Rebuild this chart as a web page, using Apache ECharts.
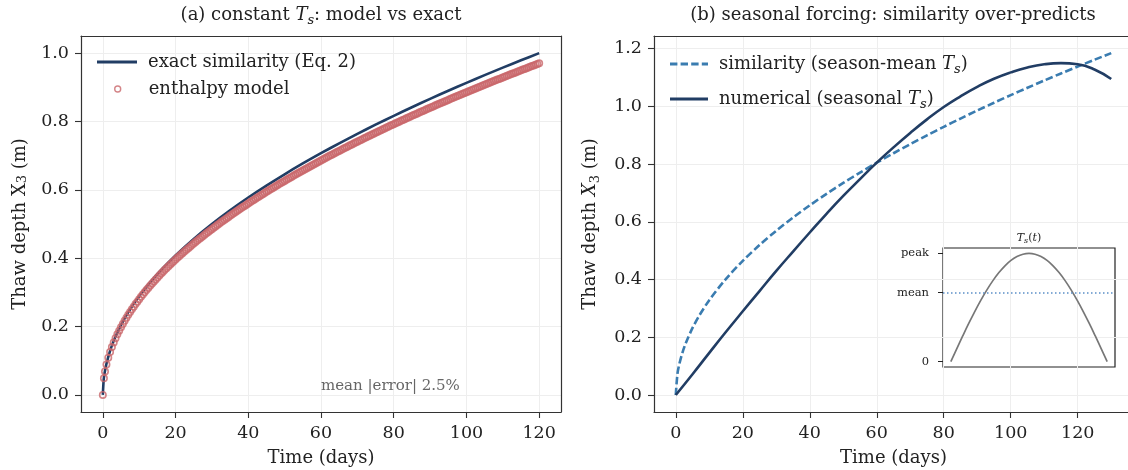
<!DOCTYPE html>
<html>
<head>
<meta charset="utf-8">
<script src="https://cdn.jsdelivr.net/npm/echarts@6/dist/echarts.min.js"></script>
<style>
  html, body { margin: 0; padding: 0; background: #fff; }
  #chart { width: 1128px; height: 470px; }
</style>
</head>
<body>
<div id="chart"></div>
<script>
// (a) constant surface temperature
var exactDays = [0, 0.25, 0.5, 1, 2, 3, 4, 6, 8, 10, 13, 16, 20, 25, 30, 35, 40, 45, 50, 55, 60,
  65, 70, 75, 80, 85, 90, 95, 100, 105, 110, 115, 120];
var exactDepth = [0, 0.0456, 0.0645, 0.0913, 0.1291, 0.1581, 0.1826, 0.2236, 0.2582, 0.2887, 0.3291,
  0.3651, 0.4082, 0.4564, 0.5000, 0.5401, 0.5774, 0.6124, 0.6455, 0.6770, 0.7071, 0.7360, 0.7638,
  0.7906, 0.8165, 0.8416, 0.8660, 0.8898, 0.9129, 0.9354, 0.9574, 0.9789, 1.0000];

var modelDays = [0, 0.3, 0.6, 1, 1.5, 2, 2.5, 3, 3.5, 4, 4.5, 5, 5.5, 6, 6.5, 7, 7.5, 8, 8.5, 9, 9.5, 10,
  10.5, 11, 11.5, 12, 12.5, 13, 13.5, 14, 14.5, 15, 15.5, 16, 16.5, 17, 17.5, 18, 18.5, 19, 19.5, 20,
  20.5, 21, 21.5, 22, 22.5, 23, 23.5, 24, 24.5, 25, 25.5, 26, 26.5, 27, 27.5, 28, 28.5, 29, 29.5, 30,
  30.5, 31, 31.5, 32, 32.5, 33, 33.5, 34, 34.5, 35, 35.5, 36, 36.5, 37, 37.5, 38, 38.5, 39, 39.5, 40,
  40.5, 41, 41.5, 42, 42.5, 43, 43.5, 44, 44.5, 45, 45.5, 46, 46.5, 47, 47.5, 48, 48.5, 49, 49.5, 50,
  50.5, 51, 51.5, 52, 52.5, 53, 53.5, 54, 54.5, 55, 55.5, 56, 56.5, 57, 57.5, 58, 58.5, 59, 59.5, 60,
  60.5, 61, 61.5, 62, 62.5, 63, 63.5, 64, 64.5, 65, 65.5, 66, 66.5, 67, 67.5, 68, 68.5, 69, 69.5, 70,
  70.5, 71, 71.5, 72, 72.5, 73, 73.5, 74, 74.5, 75, 75.5, 76, 76.5, 77, 77.5, 78, 78.5, 79, 79.5, 80,
  80.5, 81, 81.5, 82, 82.5, 83, 83.5, 84, 84.5, 85, 85.5, 86, 86.5, 87, 87.5, 88, 88.5, 89, 89.5, 90,
  90.5, 91, 91.5, 92, 92.5, 93, 93.5, 94, 94.5, 95, 95.5, 96, 96.5, 97, 97.5, 98, 98.5, 99, 99.5, 100,
  100.5, 101, 101.5, 102, 102.5, 103, 103.5, 104, 104.5, 105, 105.5, 106, 106.5, 107, 107.5, 108, 108.5, 109, 109.5, 110,
  110.5, 111, 111.5, 112, 112.5, 113, 113.5, 114, 114.5, 115, 115.5, 116, 116.5, 117, 117.5, 118, 118.5, 119, 119.5, 120];
var modelDepth = [0, 0.0485, 0.0686, 0.0886, 0.1085, 0.1252, 0.1400, 0.1534, 0.1657, 0.1771, 0.1878,
  0.1980, 0.2077, 0.2169, 0.2258, 0.2343, 0.2425, 0.2505, 0.2582, 0.2657, 0.2729, 0.2800,
  0.2869, 0.2937, 0.3002, 0.3067, 0.3130, 0.3193, 0.3253, 0.3313, 0.3372, 0.3430,
  0.3486, 0.3542, 0.3597, 0.3651, 0.3704, 0.3757, 0.3809, 0.3860, 0.3910, 0.3960,
  0.4009, 0.4058, 0.4106, 0.4153, 0.4200, 0.4247, 0.4293, 0.4338, 0.4383, 0.4428,
  0.4472, 0.4515, 0.4558, 0.4601, 0.4644, 0.4686, 0.4728, 0.4769, 0.4810, 0.4850,
  0.4890, 0.4930, 0.4970, 0.5009, 0.5048, 0.5087, 0.5125, 0.5163, 0.5201, 0.5239,
  0.5276, 0.5313, 0.5350, 0.5386, 0.5423, 0.5459, 0.5495, 0.5530, 0.5565, 0.5600,
  0.5635, 0.5670, 0.5705, 0.5739, 0.5773, 0.5807, 0.5841, 0.5874, 0.5907, 0.5940,
  0.5973, 0.6006, 0.6039, 0.6071, 0.6103, 0.6135, 0.6167, 0.6199, 0.6230, 0.6261,
  0.6293, 0.6324, 0.6355, 0.6385, 0.6416, 0.6447, 0.6477, 0.6507, 0.6537, 0.6567,
  0.6597, 0.6627, 0.6656, 0.6685, 0.6715, 0.6744, 0.6773, 0.6802, 0.6831, 0.6859,
  0.6888, 0.6916, 0.6944, 0.6972, 0.7001, 0.7029, 0.7057, 0.7084, 0.7112, 0.7139,
  0.7167, 0.7194, 0.7221, 0.7248, 0.7275, 0.7302, 0.7329, 0.7356, 0.7383, 0.7409,
  0.7435, 0.7461, 0.7488, 0.7514, 0.7540, 0.7566, 0.7592, 0.7617, 0.7643, 0.7669,
  0.7695, 0.7720, 0.7745, 0.7770, 0.7796, 0.7821, 0.7846, 0.7871, 0.7896, 0.7920,
  0.7945, 0.7970, 0.7995, 0.8019, 0.8043, 0.8067, 0.8092, 0.8116, 0.8140, 0.8164,
  0.8188, 0.8212, 0.8236, 0.8260, 0.8284, 0.8307, 0.8331, 0.8354, 0.8378, 0.8401,
  0.8424, 0.8447, 0.8471, 0.8494, 0.8517, 0.8540, 0.8563, 0.8585, 0.8608, 0.8631,
  0.8654, 0.8676, 0.8699, 0.8721, 0.8744, 0.8766, 0.8789, 0.8811, 0.8833, 0.8855,
  0.8877, 0.8899, 0.8921, 0.8943, 0.8965, 0.8987, 0.9009, 0.9030, 0.9052, 0.9074,
  0.9096, 0.9117, 0.9139, 0.9160, 0.9181, 0.9202, 0.9224, 0.9245, 0.9266, 0.9287,
  0.9308, 0.9329, 0.9350, 0.9371, 0.9392, 0.9413, 0.9434, 0.9455, 0.9476, 0.9496,
  0.9517, 0.9537, 0.9558, 0.9578, 0.9599, 0.9619, 0.9640, 0.9660, 0.9680, 0.9700];

// (b) seasonal forcing
var simDays = [0, 0.5, 1, 2, 3, 5, 7, 10, 15, 20, 25, 30, 35, 40, 45, 50, 55, 60, 65, 70, 75, 80,
  85, 90, 95, 100, 105, 110, 115, 120, 125, 130];
var simDepth = [0, 0.0735, 0.1039, 0.1469, 0.1800, 0.2323, 0.2749, 0.3286, 0.4024, 0.4647, 0.5195,
  0.5691, 0.6147, 0.6571, 0.6970, 0.7347, 0.7705, 0.8048, 0.8377, 0.8693, 0.8998, 0.9293,
  0.9579, 0.9857, 1.0127, 1.0390, 1.0647, 1.0897, 1.1142, 1.1382, 1.1617, 1.1847];

var numDays = [0, 5, 10, 15, 20, 25, 30, 35, 40, 45, 50, 55, 60, 65, 70, 75, 80, 85, 90, 95, 100,
  105, 110, 115, 120, 125, 130];
var numDepth = [0, 0.072, 0.146, 0.219, 0.290, 0.360, 0.430, 0.497, 0.563, 0.628, 0.690, 0.748,
  0.805, 0.858, 0.908, 0.955, 0.998, 1.035, 1.068, 1.096, 1.118, 1.135, 1.146, 1.150, 1.146,
  1.128, 1.095];

// inset: surface temperature shape
var insetDays = [0, 5, 10, 15, 20, 25, 30, 35, 40, 45, 50, 55, 60, 65, 70, 75, 80, 85, 90, 95, 100,
  105, 110, 115, 120, 125, 130];
var insetTemp = [0, 0.1205, 0.2393, 0.3546, 0.4647, 0.5681, 0.6631, 0.7485, 0.8230, 0.8855, 0.9350,
  0.9709, 0.9927, 1, 0.9927, 0.9709, 0.9350, 0.8855, 0.8230, 0.7485, 0.6631, 0.5681, 0.4647,
  0.3546, 0.2393, 0.1205, 0];
var insetTickValues = [0, 0.637, 1];
var insetTickNames = ['0', 'mean', 'peak'];

// ticks
var dayTicks = [0, 20, 40, 60, 80, 100, 120];
var leftDepthTicks = [0, 0.2, 0.4, 0.6, 0.8, 1.0];
var rightDepthTicks = [0, 0.2, 0.4, 0.6, 0.8, 1.0, 1.2];

var FONT = "'DejaVu Serif', serif";
var NAVY = '#213d64';
var RED = '#c9676a';
var BLUE = '#3a7cb0';
var FRAME = { color: '#333', width: 1.2 };
var SOLID_ICON = 'path://M0,0H40V3H0Z';
var DASH_ICON = 'path://M0,0H7.4V3H0Z M10.6,0H18V3H10.6Z M21.2,0H28.6V3H21.2Z M31.8,0H38V3H31.8Z';

function pairs(xs, ys) {
  return xs.map(function(x, i) { return [x, ys[i]]; });
}

var rich = {
  it: { fontFamily: FONT, fontStyle: 'italic', fontSize: 18, lineHeight: 24, verticalAlign: 'middle' },
  sub: { fontFamily: FONT, fontStyle: 'italic', fontSize: 13, lineHeight: 13, verticalAlign: 'bottom' },
  subr: { fontFamily: FONT, fontSize: 13, lineHeight: 13, verticalAlign: 'bottom' }
};

function xAxis(grid, min, max) {
  return {
    type: 'value', gridIndex: grid, min: min, max: max,
    name: 'Time (days)', nameLocation: 'middle', nameGap: 37,
    nameTextStyle: { fontFamily: FONT, fontSize: 18, color: '#222' },
    axisLine: { show: true, onZero: false, lineStyle: FRAME },
    axisTick: { show: true, length: 6, customValues: dayTicks, lineStyle: { color: '#333', width: 1.1 } },
    axisLabel: { customValues: dayTicks, fontFamily: FONT, fontSize: 17.5, color: '#222', margin: 12 },
    splitLine: { show: true, lineStyle: { color: '#eeeeee', width: 1 } }
  };
}

function yAxis(grid, min, max, ticks, italicX) {
  var nm = italicX ? 'Thaw depth {it|X}{subr|3} (m)' : 'Thaw depth X{subr|3} (m)';
  return {
    type: 'value', gridIndex: grid, min: min, max: max,
    name: nm, nameLocation: 'middle', nameGap: 52,
    nameTextStyle: { fontFamily: FONT, fontSize: 18, color: '#222', rich: rich },
    axisLine: { show: true, onZero: false, lineStyle: FRAME },
    axisTick: { show: true, length: 6, customValues: ticks, lineStyle: { color: '#333', width: 1.1 } },
    axisLabel: {
      customValues: ticks, fontFamily: FONT, fontSize: 17.5, color: '#222', margin: 12,
      formatter: function(v) { return v.toFixed(1); }
    },
    splitLine: { show: true, lineStyle: { color: '#eeeeee', width: 1 } }
  };
}

// plain line used only to close a frame (top / right side)
function frameAxis(grid, min, max, pos) {
  return {
    type: 'value', gridIndex: grid, min: min, max: max, position: pos,
    axisLine: { show: true, onZero: false, lineStyle: FRAME },
    axisTick: { show: false }, axisLabel: { show: false }, splitLine: { show: false }
  };
}

var legendText = {
  fontFamily: FONT, fontSize: 18, color: '#222', padding: [0, 0, 0, 6], rich: rich
};
function legendFmt(name) {
  if (name === 'similarity (season-mean Ts)') return 'similarity (season-mean {it|T}{sub|s})';
  if (name === 'numerical (seasonal Ts)') return 'numerical (seasonal {it|T}{sub|s})';
  return name;
}

var chart = echarts.init(document.getElementById('chart'), null, { renderer: 'canvas' });

var option = {
  backgroundColor: '#fff',
  animation: false,
  grid: [
    { left: 81, top: 36, width: 480, height: 376, show: false, outerBoundsMode: 'none', containLabel: false },
    // panel (b) runs past the right edge of the picture, so it has no right-hand side
    { left: 654, top: 36, width: 479, height: 376, show: false, outerBoundsMode: 'none', containLabel: false },
    { left: 943, top: 248, width: 172, height: 119, show: true, borderColor: '#222', borderWidth: 1.2,
      backgroundColor: 'transparent', outerBoundsMode: 'none', containLabel: false }
  ],
  xAxis: [
    xAxis(0, -6, 126),
    xAxis(1, -6.5, 136.5),
    {
      type: 'value', gridIndex: 2, min: -6.5, max: 136.5,
      axisLine: { show: false, onZero: false }, axisTick: { show: false }, axisLabel: { show: false }, splitLine: { show: false }
    },
    frameAxis(0, -6, 126, 'top'),
    frameAxis(1, -6.5, 136.5, 'top')
  ],
  yAxis: [
    yAxis(0, -0.05, 1.05, leftDepthTicks, false),
    yAxis(1, -0.059, 1.244, rightDepthTicks, true),
    {
      type: 'value', gridIndex: 2, min: -0.05, max: 1.05,
      axisLine: { show: false, onZero: false },
      axisTick: { show: true, length: 5, customValues: insetTickValues, lineStyle: { color: '#222' } },
      axisLabel: {
        customValues: insetTickValues, fontFamily: FONT, fontSize: 11.5, color: '#222', margin: 14,
        formatter: function(v) { return insetTickNames[insetTickValues.indexOf(v)]; }
      },
      splitLine: { show: false }
    },
    frameAxis(0, -0.05, 1.05, 'right')
  ],
  legend: [
    { left: 97, top: 53, padding: 0, itemWidth: 40, itemHeight: 3, textStyle: legendText,
      data: [{ name: 'exact similarity (Eq. 2)', icon: SOLID_ICON, itemStyle: { color: NAVY } }] },
    { left: 114, top: 80, padding: 0, itemWidth: 6, itemHeight: 6,
      textStyle: Object.assign({}, legendText, { padding: [0, 0, 0, 23] }),
      data: [{ name: 'enthalpy model', icon: 'circle',
        itemStyle: { color: 'rgba(0,0,0,0)', borderColor: RED, borderWidth: 1.4 } }] },
    { left: 670, top: 55, padding: 0, itemWidth: 38, itemHeight: 3, textStyle: legendText,
      formatter: legendFmt,
      data: [{ name: 'similarity (season-mean Ts)', icon: DASH_ICON, itemStyle: { color: BLUE } }] },
    { left: 670, top: 90, padding: 0, itemWidth: 38, itemHeight: 3, textStyle: legendText,
      formatter: legendFmt,
      data: [{ name: 'numerical (seasonal Ts)', icon: SOLID_ICON, itemStyle: { color: NAVY } }] }
  ],
  series: [
    {
      name: 'exact similarity (Eq. 2)', type: 'line', xAxisIndex: 0, yAxisIndex: 0,
      data: pairs(exactDays, exactDepth), showSymbol: false, symbol: 'none', smooth: 0.3,
      lineStyle: { color: NAVY, width: 2.6 }, itemStyle: { color: NAVY }, z: 2
    },
    {
      name: 'enthalpy model', type: 'scatter', xAxisIndex: 0, yAxisIndex: 0,
      data: pairs(modelDays, modelDepth), symbol: 'circle', symbolSize: 6.4,
      itemStyle: { color: 'rgba(0,0,0,0)', borderColor: RED, borderWidth: 1.6 }, z: 3
    },
    {
      name: 'similarity (season-mean Ts)', type: 'line', xAxisIndex: 1, yAxisIndex: 1,
      data: pairs(simDays, simDepth), showSymbol: false, symbol: 'none', smooth: 0.3,
      lineStyle: { color: BLUE, width: 2.6, type: [7.4, 3.2] }, itemStyle: { color: BLUE }, z: 2
    },
    {
      name: 'numerical (seasonal Ts)', type: 'line', xAxisIndex: 1, yAxisIndex: 1,
      data: pairs(numDays, numDepth), showSymbol: false, symbol: 'none', smooth: 0.5,
      lineStyle: { color: NAVY, width: 2.6 }, itemStyle: { color: NAVY }, z: 3
    },
    {
      name: 'Ts(t)', type: 'line', xAxisIndex: 2, yAxisIndex: 2,
      data: pairs(insetDays, insetTemp), showSymbol: false, symbol: 'none', smooth: 0.4,
      lineStyle: { color: '#777', width: 1.7 }, z: 4,
      markLine: {
        silent: true, symbol: 'none', label: { show: false },
        lineStyle: { color: '#5b8fc7', width: 1.5, type: [1.5, 2.5] },
        data: [{ yAxis: insetTickValues[1] }]
      }
    }
  ]
};

chart.setOption(option);

// titles and annotations placed from axis coordinates
var g0 = chart.convertToPixel({ gridIndex: 0 }, [60, 0.004]);
var gInset = chart.convertToPixel({ gridIndex: 2 }, [65, 1.05]);

chart.setOption({
  graphic: [
    {
      type: 'text', x: 321, y: 15,
      style: {
        text: '(a) constant {it|T}{sub|s}: model vs exact', fontFamily: FONT, fontSize: 18,
        fill: '#222', align: 'center', verticalAlign: 'middle', rich: rich
      }
    },
    {
      type: 'text', x: 893, y: 15,
      style: {
        text: '(b) seasonal forcing: similarity over-predicts', fontFamily: FONT, fontSize: 18,
        fill: '#222', align: 'center', verticalAlign: 'middle'
      }
    },
    {
      type: 'text', x: g0[0], y: g0[1],
      style: {
        text: 'mean |error| 2.5%', fontFamily: FONT, fontSize: 15,
        fill: '#666', align: 'left', verticalAlign: 'bottom'
      }
    },
    {
      type: 'text', x: gInset[0], y: gInset[1] - 10,
      style: {
        text: '{ii|T}{is|s}{ir|(}{ii|t}{ir|)}', align: 'center', verticalAlign: 'middle',
        rich: {
          ii: { fontFamily: FONT, fontStyle: 'italic', fontSize: 11, lineHeight: 14, fill: '#222' },
          ir: { fontFamily: FONT, fontSize: 11, lineHeight: 14, fill: '#222' },
          is: { fontFamily: FONT, fontStyle: 'italic', fontSize: 8, lineHeight: 8, verticalAlign: 'bottom', fill: '#222' }
        }
      }
    }
  ]
});
</script>
</body>
</html>
